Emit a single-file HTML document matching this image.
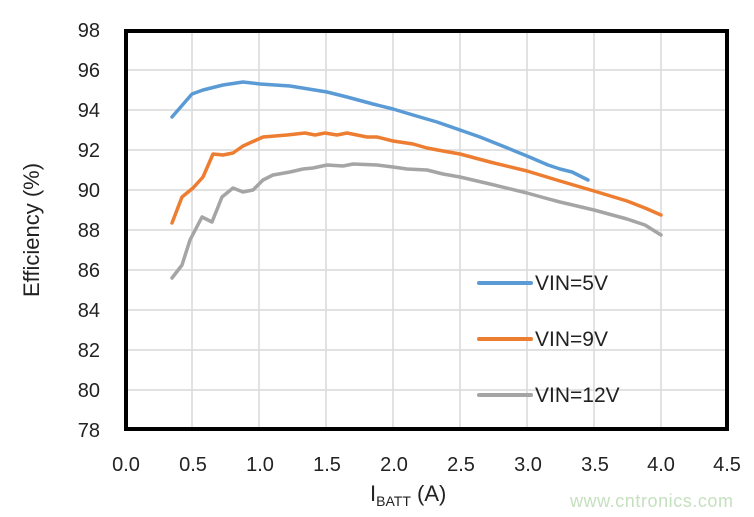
<!DOCTYPE html>
<html><head><style>body{margin:0;background:#fff}svg{display:block}</style></head><body>
<svg width="754" height="517" xmlns="http://www.w3.org/2000/svg" font-family="Liberation Sans, sans-serif">
<g stroke="#d9d9d9" stroke-width="1.5">
<line x1="192" y1="30" x2="192" y2="430"/><line x1="259" y1="30" x2="259" y2="430"/><line x1="326" y1="30" x2="326" y2="430"/><line x1="393" y1="30" x2="393" y2="430"/><line x1="460" y1="30" x2="460" y2="430"/><line x1="527" y1="30" x2="527" y2="430"/><line x1="594" y1="30" x2="594" y2="430"/><line x1="661" y1="30" x2="661" y2="430"/>
<line x1="125" y1="70" x2="728" y2="70"/><line x1="125" y1="110" x2="728" y2="110"/><line x1="125" y1="150" x2="728" y2="150"/><line x1="125" y1="190" x2="728" y2="190"/><line x1="125" y1="230" x2="728" y2="230"/><line x1="125" y1="270" x2="728" y2="270"/><line x1="125" y1="310" x2="728" y2="310"/><line x1="125" y1="350" x2="728" y2="350"/><line x1="125" y1="390" x2="728" y2="390"/>
</g>
<rect x="126" y="31" width="601" height="398" fill="none" stroke="#000" stroke-width="4"/>
<g fill="none" stroke-width="3.5" stroke-linejoin="round" stroke-linecap="round">
<polyline stroke="#5b9bd5" points="172,117 192,94 203,90 223,85 243,82 260,84 290,86 327,92 347,97 373,104 393,109 413,115 437,122 460,130 480,137 505,147 527,156 548,165 560,169 572,172 588,180"/>
<polyline stroke="#ed7d31" points="172,223 182,197 193,188 203,177 213,154 223,155 233,153 243,146 263,137 287,135 305,133 315,135 325,133 337,135 347,133 357,135 367,137 377,137 393,141 413,144 427,148 443,151 460,154 490,162 527,171 560,181 594,191 627,201 645,208 661,215"/>
<polyline stroke="#a5a5a5" points="172,278 182,265 190,240 202,217 212,222 222,197 233,188 243,192 253,190 263,180 273,175 290,172 303,169 313,168 327,165 343,166 353,164 377,165 393,167 407,169 427,170 443,174 460,177 490,184 527,193 545,198 560,202 594,210 627,219 645,225 661,235"/>
</g>
<g stroke-width="4" stroke-linecap="round">
<line x1="479" y1="283" x2="531" y2="283" stroke="#5b9bd5"/>
<line x1="479" y1="339" x2="531" y2="339" stroke="#ed7d31"/>
<line x1="479" y1="395" x2="531" y2="395" stroke="#a5a5a5"/>
</g>
<g font-size="21" fill="#222">
<text x="535" y="290">VIN=5V</text><text x="535" y="346">VIN=9V</text><text x="535" y="402">VIN=12V</text>
</g>
<g font-size="20" fill="#222" text-anchor="end">
<text x="100" y="37">98</text><text x="100" y="77">96</text><text x="100" y="117">94</text><text x="100" y="157">92</text><text x="100" y="197">90</text><text x="100" y="237">88</text><text x="100" y="277">86</text><text x="100" y="317">84</text><text x="100" y="357">82</text><text x="100" y="397">80</text><text x="100" y="437">78</text>
</g>
<g font-size="20" fill="#222" text-anchor="middle">
<text x="126" y="471">0.0</text><text x="193" y="471">0.5</text><text x="260" y="471">1.0</text><text x="327" y="471">1.5</text><text x="394" y="471">2.0</text><text x="461" y="471">2.5</text><text x="528" y="471">3.0</text><text x="595" y="471">3.5</text><text x="661" y="471">4.0</text><text x="727" y="471">4.5</text>
</g>
<text x="39" y="230" font-size="22" fill="#222" text-anchor="middle" transform="rotate(-90 39 230)">Efficiency (%)</text>
<text x="370" y="501" font-size="22" fill="#222">I<tspan font-size="14" dy="5">BATT</tspan><tspan dy="-5"> (A)</tspan></text>
<text x="570" y="507" font-size="18" fill="#c5e0bf" textLength="163">www.cntronics.com</text>
</svg>
</body></html>
